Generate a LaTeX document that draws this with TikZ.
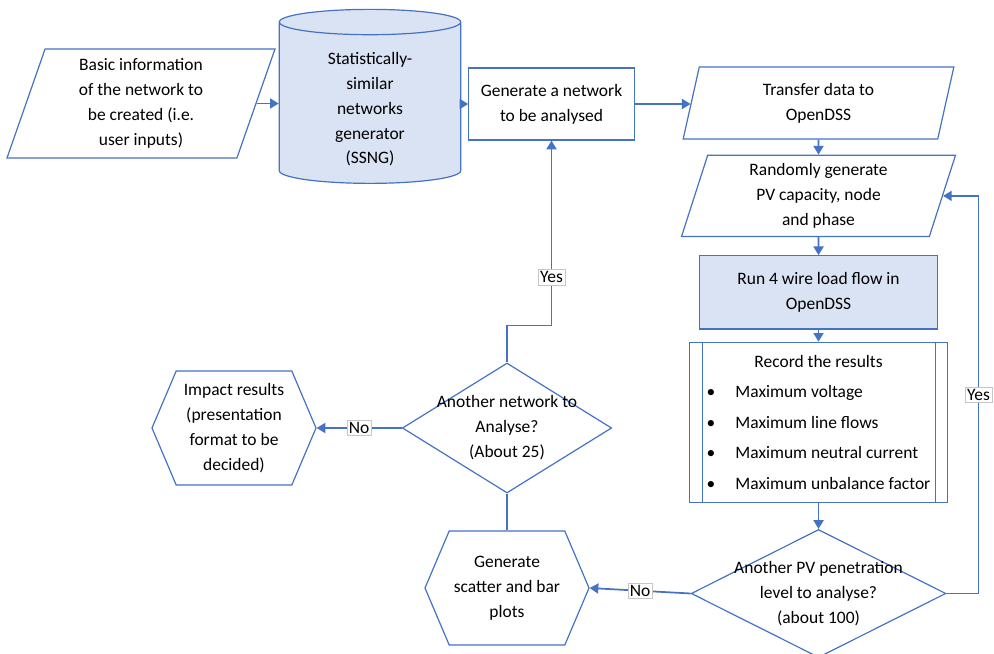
\documentclass[tikz,border=0pt]{standalone}
\usepackage{fontspec}
\setmainfont{Carlito}
\usetikzlibrary{shapes.geometric, shapes.symbols, positioning, arrows.meta}
\definecolor{flowblue}{RGB}{68,114,196}
\definecolor{flowfill}{RGB}{218,227,243}

\begin{document}
\begin{tikzpicture}[x=0.75pt, y=-0.75pt, >={Triangle[length=6.5pt,width=7.5pt]},
    font=\fontsize{13.1}{18.7}\selectfont,
    base/.style={draw=flowblue, line width=0.9pt, align=center, inner sep=0pt},
    io/.style={base, trapezium, trapezium left angle=68, trapezium right angle=112, trapezium stretches body=true},
    proc/.style={base, rectangle},
    store/.style={base, cylinder, shape border rotate=90, aspect=0.3, fill=flowfill},
    decide/.style={base, diamond},
    hexa/.style={base, signal, signal to=east and west, signal pointer angle=134, minimum width=123pt, minimum height=85.5pt},
    link/.style={draw=flowblue, line width=1.3pt},
    flow/.style={link, ->},
    yesno/.style={fill=white, draw=gray!45, line width=0.5pt, inner sep=1.5pt}]
    \useasboundingbox (0,0) rectangle (994,653);

    % Define nodes
    \node[io, minimum width=201pt, minimum height=81.75pt, trapezium left angle=67, trapezium right angle=113] (input) at (141,103.5) {Basic information\\of the network to\\be created (i.e.\\user inputs)};
    \node[store, minimum width=136pt, minimum height=130.5pt] (ssng) at (370,103) {\rule{0pt}{18.5pt}Statistically-\\similar\\networks\\generator\\(SSNG)};
    \node[proc, minimum width=124pt, minimum height=54pt] (gen) at (551.5,104) {Generate a network\\to be analysed};

    \node[io, minimum width=203pt, minimum height=54pt] (transfer) at (818.5,103) {Transfer data to\\OpenDSS};
    \node[io, minimum width=205.5pt, minimum height=61pt, below=11.25pt of transfer] (random) {Randomly generate\\PV capacity, node\\and phase};
    \node[proc, fill=flowfill, minimum width=179pt, minimum height=55pt, below=13.5pt of random] (run) {Run 4 wire load flow in\\OpenDSS};
    \node[proc, minimum width=193pt, minimum height=120pt, below=9pt of run,
        path picture={\draw[flowblue, line width=0.9pt]
            ([xshift=9.75pt]path picture bounding box.north west) -- ([xshift=9.75pt]path picture bounding box.south west)
            ([xshift=-9pt]path picture bounding box.north east) -- ([xshift=-9pt]path picture bounding box.south east);}] (record)
        {\renewcommand\arraystretch{1.22}\begin{tabular}{@{}c@{\hspace{15pt}}l@{}}
            \multicolumn{2}{c}{Record the results}\\
            \textbullet & Maximum voltage\\
            \textbullet & Maximum line flows\\
            \textbullet & Maximum neutral current\\
            \textbullet & Maximum unbalance factor
        \end{tabular}};
    \node[decide, minimum width=191pt, minimum height=96pt, below=19.5pt of record,
        label={[align=center]center:Another PV penetration\\level to analyse?\\(about 100)}] (pvq) {};

    \node[hexa] (scatter) at (507,588) {Generate\\scatter and bar\\plots};
    \node[decide, minimum width=157pt, minimum height=97.5pt,
        label={[align=center]center:Another network to\\Analyse?\\(About 25)}] (netq) at (507,428) {};
    \node[hexa] (impact) at (234,428) {Impact results\\(presentation\\format to be\\decided)};

    % Connectors
    \draw[flow] (input.east) -- (input.east -| ssng.west);
    \draw[flow] (gen.west -| ssng.east) -- (gen.west);
    \draw[flow] (gen.east) -- (gen.east -| transfer.west);
    \draw[flow] (transfer) -- (random);
    \draw[flow] (random) -- (run);
    \draw[flow] (run) -- (record);
    \draw[flow] (record) -- (pvq);

    \draw[flow] (pvq.east) -- ++(32,0) |- (random.east) node[yesno, pos=0.25] {Yes};
    \draw[flow] (pvq.west) -- (scatter.east) node[yesno, midway] {No};
    \draw[link] (netq.south) -- (scatter.north);
    \draw[flow] (netq.north) -- ++(0,-37) -| (gen.south) node[yesno, pos=0.63] {Yes};
    \draw[flow] (netq.west) -- (impact.east) node[yesno, midway] {No};

\end{tikzpicture}
\end{document}
